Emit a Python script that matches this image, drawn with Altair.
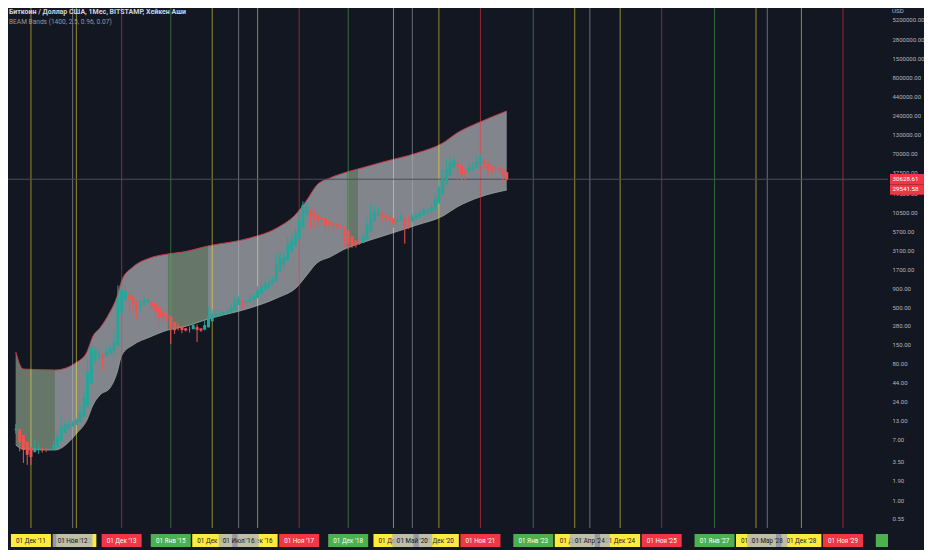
import altair as alt
import pandas as pd

BG = "#131722"

# ---------------- data ----------------
months = pd.date_range("2011-08-01", "2022-06-01", freq="MS").strftime("%Y-%m-%d").tolist()

ha_open = [9.6, 9.7, 8.1, 6.5, 5.4, 4.7, 5.05, 5.12, 5.03, 5.0, 5.03, 5.45, 6.7, 8.65, 10.0, 10.8, 11.3,
           12.2, 14.5, 20.6, 42, 89.5, 106, 108.5, 102, 111, 121.5, 143, 407,
           636, 734, 690, 615, 529, 530, 577, 594, 560, 495, 423, 397,
           371, 311, 274, 266, 252, 244, 244.5, 262, 251, 242, 260, 316,
           360, 382, 393, 406, 420, 455, 540, 595, 585, 592, 627, 673,
           765, 861, 965, 1040, 1125, 1535, 2005, 2268, 3009, 3627, 4494, 6410,
           9875, 11212, 10380, 9628, 8869, 8655, 7757, 7466, 7273, 7024, 6782, 5941,
           4870, 4260, 3990, 3960, 4368, 5716, 7948, 9374, 9862, 9494, 9142, 8658,
           7944, 8097, 8661, 7830, 7752, 8413, 8944, 9577, 10538, 10816, 11543, 14046,
           18973, 25990, 34115, 43400, 50250, 48190, 41900, 39475, 41790, 43820, 48835, 54490,
           52780, 47080, 43765, 43645, 42860, 38455]
ha_close = [9.9, 6.5, 5.0, 4.3, 4.0, 5.4, 5.2, 4.95, 5.0, 5.05, 5.9, 7.9, 10.6, 11.4, 11.5, 11.8, 13.1,
            16.9, 26.7, 63.6, 137, 122, 111, 95, 120, 132, 164, 672, 866,
            832, 647, 540, 443, 531, 625, 611, 527, 429, 352, 371, 345,
            252, 237, 258, 239, 235, 245, 279, 240, 234, 279, 372, 405,
            405, 404, 420, 435, 491, 625, 651, 574, 600, 662, 720, 857,
            957, 1069, 1115, 1210, 1945, 2475, 2530, 3750, 4245, 5360, 8325, 13340,
            12550, 9550, 8875, 8110, 8440, 6860, 7175, 7080, 6775, 6540, 5100, 3800,
            3650, 3720, 3930, 4775, 7065, 10180, 10800, 10350, 9125, 8790, 8175, 7230,
            8250, 9225, 7000, 7675, 9075, 9475, 10210, 11500, 11095, 12270, 16550, 23900,
            33010, 42240, 52690, 57100, 46125, 35600, 37050, 44100, 45850, 53850, 60150, 51075,
            41375, 40450, 43525, 42075, 34050, 30628.61]
ha_high = [11.5, 10.0, 8.1, 6.5, 5.4, 7.0, 6.1, 5.4, 5.3, 5.2, 6.7, 9.5, 15.5, 12.9, 12.8, 12.9, 13.9,
           20.4, 33.4, 95, 160, 140, 130, 112, 140, 146, 215, 1000, 1000,
           1000, 838, 718, 615, 625, 680, 655, 600, 560, 495, 457, 397,
           371, 311, 300, 266, 252, 265, 315, 285, 251, 330, 500, 465,
           460, 445, 437, 465, 550, 775, 705, 626, 630, 735, 755, 980,
           1150, 1200, 1300, 1350, 2780, 3000, 2950, 4750, 5000, 6470, 11400, 15000,
           15000, 11800, 11700, 9800, 10000, 8655, 8500, 7750, 7400, 7050, 6782, 5941,
           4870, 4260, 4100, 5650, 9100, 13900, 13200, 12300, 10900, 10400, 9500, 8658,
           9600, 10500, 9200, 9450, 10100, 10400, 11400, 12450, 12050, 14100, 19500, 29300,
           41950, 58350, 61800, 64900, 59500, 48190, 42400, 50500, 52900, 67000, 69000, 59100,
           52780, 47080, 48200, 47500, 42860, 38455]
ha_low = [8.5, 4.8, 3.3, 3.1, 3.1, 4.6, 4.4, 4.6, 4.7, 4.9, 5.03, 5.45, 6.7, 8.65, 10.0, 10.5, 11.3,
          12.2, 14.5, 20.6, 42, 79, 88, 65, 100, 111, 105, 143, 407,
          636, 400, 440, 340, 430, 530, 565, 445, 350, 275, 310, 300,
          152, 210, 235, 215, 228, 220, 244.5, 162, 225, 236, 260, 316,
          360, 365, 390, 406, 420, 455, 540, 470, 585, 592, 627, 673,
          750, 861, 890, 1040, 1125, 1535, 1800, 2268, 2950, 3627, 4494, 6410,
          9000, 6000, 6600, 6500, 7000, 5750, 6100, 5880, 6100, 6200, 3500, 3200,
          3350, 3400, 3700, 3960, 4368, 5716, 7948, 9374, 7700, 7300, 6500, 6430,
          6850, 8097, 3850, 6200, 7752, 8413, 8944, 9577, 9900, 10400, 11543, 14046,
          18973, 25990, 34115, 43400, 30000, 28800, 29300, 37300, 39600, 43300, 48835, 42000,
          32900, 34300, 37200, 37600, 26700, 29300]

band_dates = ["2011-08-01", "2011-09-28", "2012-06-11", "2012-12-06", "2013-02-24", "2013-04-14",
              "2013-06-09", "2013-08-29", "2013-10-24", "2013-12-03", "2014-03-02", "2014-07-17",
              "2014-12-09", "2015-04-09", "2015-10-28", "2016-09-30", "2017-05-06", "2017-10-14",
              "2018-01-02", "2018-03-24", "2018-07-07", "2018-11-21", "2019-02-18", "2019-09-07",
              "2020-06-07", "2021-01-02", "2021-04-26", "2021-10-28", "2022-06-01"]
band_upper = [117.5, 67.9, 65.8, 85.1, 117.5, 196.7, 254.4, 426, 690, 1194, 1814, 2424, 2758, 2941,
              3568, 4617, 6373, 10328, 15696, 25440, 31880, 38670, 42600, 53380, 71330, 98400,
              135800, 193500, 275800]
band_lower = [5.88, 5.17, 5.0, 8.65, 13.1, 21.3, 29.4, 36.8, 59.7, 106.7, 147.2, 190.4, 238.6, 262.8,
              340.0, 484.6, 668.7, 952.8, 1402, 2064, 2503, 3346, 3805, 4923, 7020, 9376, 12530,
              17290, 21660]

tint_start = ["2011-08-01", "2014-12-09", "2018-11-21"]
tint_end = ["2012-06-11", "2015-10-28", "2019-02-18"]

event_dates = ["2011-12-01", "2012-11-01", "2012-12-01", "2013-12-01", "2015-01-01", "2015-12-01",
               "2016-07-01", "2016-12-01", "2017-11-01", "2018-12-01", "2019-12-01", "2020-05-01",
               "2020-12-01", "2021-11-01", "2023-01-01", "2023-12-01", "2024-04-01", "2024-12-01",
               "2025-11-01", "2027-01-01", "2027-12-01", "2028-03-01", "2028-12-01", "2029-11-01",
               "2031-01-01"]
event_kinds = ["yellow", "gray", "yellow", "red", "green", "yellow", "gray", "yellow", "red", "green",
               "yellow", "gray", "yellow", "red", "green", "yellow", "gray", "yellow", "red", "green",
               "yellow", "gray", "yellow", "red", "green"]
event_labels = ["01 Дек '11", "01 Ноя '12", "01 Дек '12", "01 Дек '13", "01 Янв '15", "01 Дек '15",
                "01 Июл '16", "01 Дек '16", "01 Ноя '17", "01 Дек '18", "01 Дек '19", "01 Май '20",
                "01 Дек '20", "01 Ноя '21", "01 Янв '23", "01 Дек '23", "01 Апр '24", "01 Дек '24",
                "01 Ноя '25", "01 Янв '27", "01 Дек '27", "01 Мар '28", "01 Дек '28", "01 Ноя '29",
                "01 Янв '31"]

price_ticks = [0.55, 1, 1.9, 3.5, 7, 13, 24, 44, 80, 150, 280, 500, 900, 1700, 3100, 5700, 10500,
               19500, 37500, 70000, 130000, 240000, 440000, 800000, 1500000, 2800000, 5200000]

last_ha_close = 30628.61
last_close = 29541.58

title_main = "Биткоин / Доллар США, 1Мес, BITSTAMP, Хейкен Аши"
title_ind = "BEAM Bands (1400, 2.5, 0.96, 0.07)"
currency = "USD"

# ---------------- frames ----------------
candles = pd.DataFrame({"m": months, "o": ha_open, "h": ha_high, "l": ha_low, "c": ha_close})
band = pd.DataFrame({"d": band_dates, "upper": band_upper, "lower": band_lower})
parts = []
for i, (s, e) in enumerate(zip(tint_start, tint_end)):
    sub = band[(band["d"] >= s) & (band["d"] <= e)].copy()
    sub["p"] = i
    parts.append(sub)
tint = pd.concat(parts)

ev = pd.DataFrame({"d": event_dates, "kind": event_kinds, "label": event_labels})
X_END = "2030-10-30"
ev_in = ev[ev["d"] < X_END]
ev_out = ev[ev["d"] >= X_END]

# ---------------- scales ----------------
XS = alt.Scale(domain=[alt.DateTime(year=2011, month=5, date=30, utc=True),
                       alt.DateTime(year=2030, month=10, date=30, utc=True)],
               nice=False, padding=0)
YS = alt.Scale(type="log", domain=[0.406, 7604000], nice=False, padding=0)
KS = alt.Scale(domain=["yellow", "gray", "red", "green"],
               range=["#ffeb3b", "#b2b5be", "#f23645", "#4caf50"])

Y_AXIS = alt.Axis(orient="right", values=price_ticks, format=".2f", ticks=False, domain=False,
                  grid=False, labelColor="#b2b5be", labelFontSize=6, labelFont="Roboto",
                  labelPadding=4, labelOverlap=False, labelFlush=False, title=None)


def X(f):
    return alt.X(f"{f}:T", scale=XS, axis=None)


def Y(f):
    return alt.Y(f"{f}:Q", scale=YS, axis=Y_AXIS)


candle_color = alt.when(alt.datum.c >= alt.datum.o).then(alt.value("#26a69a")).otherwise(alt.value("#ef5350"))
text_color = alt.when((alt.datum.kind == "red") | (alt.datum.kind == "green")).then(
    alt.value("#ffffff")).otherwise(alt.value("#131722"))

# ---------------- layers ----------------
band_area = alt.Chart(band).mark_area(interpolate="monotone", color="#82858c").encode(
    x=X("d"), y=Y("upper"), y2="lower:Q")
tint_area = alt.Chart(tint).mark_area(interpolate="monotone", color="#66776a").encode(
    x=X("d"), y=Y("upper"), y2="lower:Q", detail="p:N")
upper_line = alt.Chart(band).mark_line(interpolate="monotone", color="#c23a48", strokeWidth=1).encode(
    x=X("d"), y=Y("upper"))
lower_line = alt.Chart(band).mark_line(interpolate="monotone", color="#98a59a", strokeWidth=1,
                                       opacity=0.8).encode(x=X("d"), y=Y("lower"))

rules = alt.Chart(ev).mark_rule(strokeWidth=1, opacity=0.55, clip=True).encode(
    x=X("d"), color=alt.Color("kind:N", scale=KS, legend=None))

price_line = alt.Chart(pd.DataFrame({"v": [last_ha_close]})).mark_rule(
    color="#4a4e59", strokeWidth=1).encode(y=Y("v"))

wicks = alt.Chart(candles).mark_rule(strokeWidth=1).encode(
    x=X("m"), y=Y("l"), y2="h:Q", color=candle_color)
bodies = alt.Chart(candles).mark_bar(size=3).encode(
    x=X("m"), y=Y("o"), y2="c:Q", color=candle_color)

box_layers = []
for k, op in [("yellow", 1.0), ("gray", 0.82), ("red", 1.0), ("green", 1.0)]:
    sub = ev_in[ev_in["kind"] == k]
    box_layers.append(alt.Chart(sub).mark_rect(xOffset=-20, x2Offset=20, opacity=op).encode(
        x=X("d"), x2="d:T", y=alt.value(526), y2=alt.value(539),
        color=alt.Color("kind:N", scale=KS, legend=None)))
    box_layers.append(alt.Chart(sub).mark_text(fontSize=6.3, font="Roboto", baseline="middle",
                                               align="center").encode(
        x=X("d"), y=alt.value(532.5), text="label:N", color=text_color))
box_layers.append(alt.Chart(ev_out).mark_rect(xOffset=-20).encode(
    x=X("d"), x2=alt.value(880), y=alt.value(526), y2=alt.value(539),
    color=alt.Color("kind:N", scale=KS, legend=None)))

tag1 = pd.DataFrame({"v": [last_ha_close], "t": [f"{last_ha_close:.2f}"]})
tag2 = pd.DataFrame({"v": [last_close], "t": [f"{last_close:.2f}"]})
tags = [
    alt.Chart(tag1).mark_rect(color="#f23645", yOffset=-5.2, y2Offset=4.8).encode(
        x=alt.value(882), x2=alt.value(916), y=Y("v"), y2="v:Q"),
    alt.Chart(tag1).mark_text(align="left", baseline="middle", color="#ffffff", fontSize=6.2,
                              font="Roboto").encode(x=alt.value(884.5), y=Y("v"), text="t:N"),
    alt.Chart(tag2).mark_rect(color="#f23645", yOffset=3.9, y2Offset=14.4).encode(
        x=alt.value(882), x2=alt.value(916), y=Y("v"), y2="v:Q"),
    alt.Chart(tag2).mark_text(align="left", baseline="middle", color="#ffffff", fontSize=6.2,
                              font="Roboto", dy=8.6).encode(x=alt.value(884.5), y=Y("v"), text="t:N"),
]

texts = pd.DataFrame({"a": [title_main], "b": [title_ind], "u": [currency]})
title_layers = [
    alt.Chart(texts).mark_text(align="left", baseline="middle", color="#d1d4dc", fontSize=7,
                               fontWeight="bold", font="Roboto").encode(
        x=alt.value(1), y=alt.value(4), text="a:N"),
    alt.Chart(texts).mark_text(align="left", baseline="middle", color="#9598a1", fontSize=6.6,
                               font="Roboto").encode(x=alt.value(1), y=alt.value(14), text="b:N"),
    alt.Chart(texts).mark_text(align="left", baseline="middle", color="#b2b5be", fontSize=6.2,
                               font="Roboto").encode(x=alt.value(884), y=alt.value(3), text="u:N"),
]

chart = alt.layer(
    band_area, tint_area, upper_line, lower_line, rules, price_line, wicks, bodies,
    *box_layers, *tags, *title_layers
).properties(
    width=880, height=520,
    autosize=alt.AutoSizeParams(type="none"),
    padding={"left": 0, "top": 0, "right": 36, "bottom": 22},
    background=BG,
).configure_view(strokeWidth=0)

chart.save("out.html", embed_options={"renderer": "svg", "actions": False})
